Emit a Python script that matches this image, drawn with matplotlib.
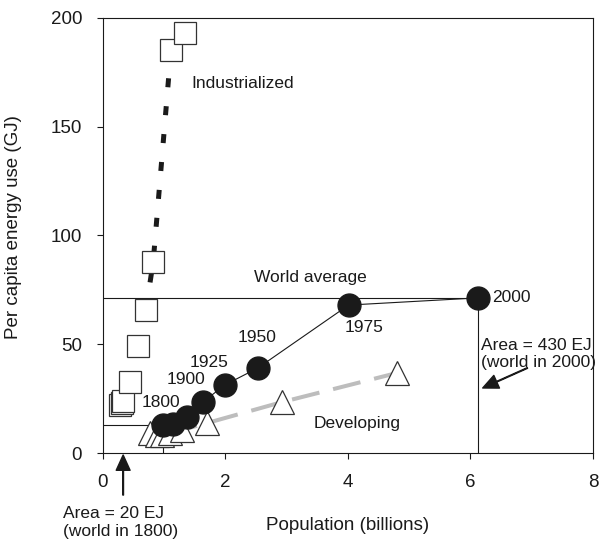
import matplotlib.pyplot as plt

plt.rcParams['font.family'] = ['Liberation Sans', 'DejaVu Sans']

# World: population (billions) vs per capita energy use (GJ)
world_years = [1800, 1850, 1875, 1900, 1925, 1950, 1975, 2000]
world_pop = [0.98, 1.15, 1.37, 1.63, 1.99, 2.53, 4.01, 6.12]
world_gj = [12.9, 13.4, 16.6, 23.4, 31.3, 39.1, 68.0, 71.3]

# Industrialized countries
ind_pop = [0.28, 0.31, 0.33, 0.44, 0.57, 0.70, 0.82, 1.11, 1.34]
ind_gj = [22.1, 23.0, 23.9, 32.6, 49.2, 65.7, 87.8, 185, 193]

# Developing countries
dev_pop = [0.77, 0.88, 0.96, 1.09, 1.29, 1.70, 2.92, 4.80]
dev_gj = [9.2, 8.3, 8.3, 9.2, 10.6, 13.8, 23.4, 36.8]

fig = plt.figure(figsize=(6.02, 5.4), dpi=100)
ax = fig.add_axes([0.171, 0.161, 0.814, 0.806])

ink = '#1a1a1a'

# world average boxes (1800 and 2000)
ax.plot([0, world_pop[0], world_pop[0]], [world_gj[0], world_gj[0], 0],
        color=ink, lw=0.8, zorder=1)
ax.plot([0, world_pop[-1], world_pop[-1]], [world_gj[-1], world_gj[-1], 0],
        color=ink, lw=0.8, zorder=1)

# trend lines
ax.plot(ind_pop[5:8], ind_gj[5:8], color=ink, lw=3.6, dashes=(1.8, 3.8),
        solid_capstyle='butt', zorder=2)
ax.plot(dev_pop[3:], dev_gj[3:], color='#bdbdbd', lw=2.9, dashes=(7, 3.5),
        zorder=2)

# markers
ax.plot(ind_pop, ind_gj, ls='none', marker='s', ms=16, mfc='white',
        mec='#333333', mew=0.9, zorder=3)
ax.plot(dev_pop, dev_gj, ls='none', marker='^', ms=17, mfc='white',
        mec='#333333', mew=0.9, zorder=3)
ax.plot(world_pop, world_gj, color=ink, lw=0.8, marker='o', ms=16.5,
        mfc=ink, mec=ink, zorder=4)

fs = 12.5
ax.text(0.95, 23.4, '1800', fontsize=fs, ha='center', va='center', color=ink)
ax.text(1.35, 34.0, '1900', fontsize=fs, ha='center', va='center', color=ink)
ax.text(1.73, 41.8, '1925', fontsize=fs, ha='center', va='center', color=ink)
ax.text(2.51, 52.9, '1950', fontsize=fs, ha='center', va='center', color=ink)
ax.text(4.26, 57.9, '1975', fontsize=fs, ha='center', va='center', color=ink)
ax.text(6.35, 71.7, '2000', fontsize=fs, ha='left', va='center', color=ink)

ax.text(1.45, 169.7, 'Industrialized', fontsize=fs, ha='left', va='center', color=ink)
ax.text(3.38, 80.5, 'World average', fontsize=fs, ha='center', va='center', color=ink)
ax.text(4.15, 13.8, 'Developing', fontsize=fs, ha='center', va='center', color=ink)

arrow = dict(facecolor=ink, edgecolor=ink, width=0.5, headwidth=10,
             headlength=11, shrink=0)
ax.annotate('Area = 430 EJ\n(world in 2000)', xy=(6.20, 29.9), xytext=(6.17, 45.5),
            fontsize=fs, ha='left', va='center', color=ink, annotation_clip=False)
ax.annotate('', xy=(6.20, 29.9), xytext=(6.93, 39.1), arrowprops=arrow)
ax.annotate('', xy=(0.33, -0.9), xytext=(0.33, -19.3), arrowprops=arrow,
            annotation_clip=False)
ax.text(-0.65, -32, 'Area = 20 EJ\n(world in 1800)', fontsize=fs, ha='left',
        va='center', color=ink, clip_on=False)

ax.set_xlim(0, 8)
ax.set_ylim(0, 200)
ax.set_xticks([0, 2, 4, 6, 8])
ax.set_yticks([0, 50, 100, 150, 200])
ax.tick_params(direction='out', length=4, width=0.8, labelsize=13.5, pad=11,
               colors=ink)
for s in ax.spines.values():
    s.set_linewidth(0.8)
    s.set_color(ink)

ax.set_xlabel('Population (billions)', fontsize=13.5, color=ink)
ax.set_ylabel('Per capita energy use (GJ)', fontsize=13.5, color=ink)
ax.xaxis.set_label_coords(0.5, -0.147)
ax.yaxis.set_label_coords(-0.165, 0.52)

fig.savefig('out.png', dpi=100)
